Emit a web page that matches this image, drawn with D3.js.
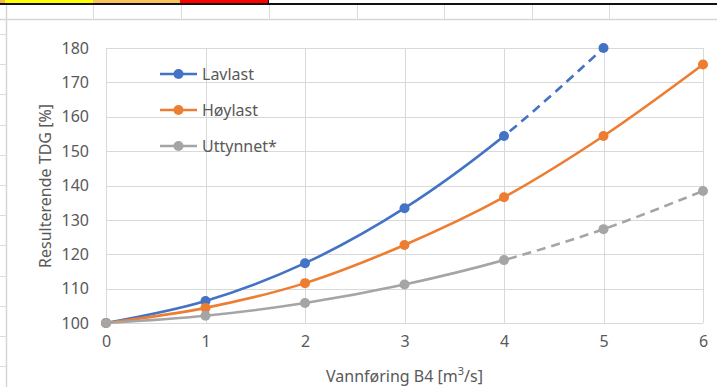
<!DOCTYPE html>
<html lang="no">
<head>
    <meta charset="UTF-8">
    <title>Resulterende TDG</title>
    <script src="https://d3js.org/d3.v7.min.js"></script>
    <style>
        body { margin: 0; background: #fff; }
        text { font-family: "Noto Sans", "Open Sans", sans-serif; fill: #595959; }
    </style>
</head>
<body>
    <script>
        // data
        const flows = [0, 1, 2, 3, 4, 5, 6];
        const lavlast = [100, 106.4, 117.4, 133.4, 154.4, 180];
        const hoylast = [100, 104.4, 111.6, 122.7, 136.6, 154.4, 175.2];
        const uttynnet = [100, 102.1, 105.8, 111.2, 118.3, 127.3, 138.4];
        const yTicks = [100, 110, 120, 130, 140, 150, 160, 170, 180];

        const series = [
            { name: "Lavlast", values: lavlast, color: "#4472C4", dashFrom: 4 },
            { name: "Høylast", values: hoylast, color: "#ED7D31", dashFrom: null },
            { name: "Uttynnet*", values: uttynnet, color: "#A5A5A5", dashFrom: 4 }
        ];

        const W = 717, H = 387;
        const margin = { top: 48, right: 14, bottom: 64, left: 106 };
        const width = W - margin.left - margin.right;
        const height = H - margin.top - margin.bottom;

        const svg = d3.select("body").append("svg")
            .attr("width", W)
            .attr("height", H);

        // spreadsheet background around the chart object
        const sheet = svg.append("g");
        const topCells = [
            { x0: 0, x1: 5, c: "#F4B942" },
            { x0: 5, x1: 93, c: "#FFFF00" },
            { x0: 93, x1: 180, c: "#F8C35A" },
            { x0: 180, x1: 268, c: "#FF0000" }
        ];
        sheet.selectAll("rect.cell").data(topCells).enter().append("rect")
            .attr("x", d => d.x0).attr("y", 0)
            .attr("width", d => d.x1 - d.x0).attr("height", 3)
            .attr("fill", d => d.c);
        sheet.append("rect").attr("x", 268).attr("y", 0).attr("width", 1).attr("height", 4).attr("fill", "#000");
        sheet.append("rect").attr("x", 0).attr("y", 3).attr("width", W).attr("height", 2).attr("fill", "#111");
        [93, 181, 269, 357, 444, 532, 609].forEach(x => {
            sheet.append("line").attr("x1", x + 0.5).attr("x2", x + 0.5).attr("y1", 5).attr("y2", 20)
                .attr("stroke", "#dcdcdc");
        });
        sheet.append("line").attr("x1", 0).attr("x2", W).attr("y1", 19.5).attr("y2", 19.5)
            .attr("stroke", "#d6d6d6").attr("stroke-width", 1.5);
        d3.range(34, H, 30.2).forEach(y => {
            sheet.append("line").attr("x1", 0).attr("x2", 6).attr("y1", Math.round(y) + 0.5).attr("y2", Math.round(y) + 0.5)
                .attr("stroke", "#dcdcdc");
        });
        sheet.append("line").attr("x1", 6.5).attr("x2", 6.5).attr("y1", 5).attr("y2", H)
            .attr("stroke", "#d6d6d6").attr("stroke-width", 1.5);

        const g = svg.append("g")
            .attr("transform", `translate(${margin.left},${margin.top})`);

        const x = d3.scaleLinear().domain([0, 6]).range([0, width]);
        const y = d3.scaleLinear().domain([100, 180]).range([height, 0]);

        // gridlines
        g.append("g").selectAll("line").data(yTicks).enter().append("line")
            .attr("x1", 0).attr("x2", width)
            .attr("y1", d => Math.round(y(d)) + 0.5).attr("y2", d => Math.round(y(d)) + 0.5)
            .attr("stroke", "#d9d9d9");
        g.append("g").selectAll("line").data(flows).enter().append("line")
            .attr("x1", d => Math.round(x(d)) + 0.5).attr("x2", d => Math.round(x(d)) + 0.5)
            .attr("y1", 0).attr("y2", height)
            .attr("stroke", "#d9d9d9");

        // axes
        const yAxis = g.append("g")
            .call(d3.axisLeft(y).tickValues(yTicks).tickSize(0).tickPadding(17));
        const xAxis = g.append("g")
            .attr("transform", `translate(0,${height})`)
            .call(d3.axisBottom(x).tickValues(flows).tickSize(0).tickPadding(13).tickFormat(d3.format("d")));
        [yAxis, xAxis].forEach(a => {
            a.select(".domain").remove();
            a.selectAll("text").style("font-size", "16px").attr("fill", "#595959");
        });

        svg.append("text")
            .attr("x", margin.left + x(3))
            .attr("y", 382)
            .attr("text-anchor", "middle")
            .style("font-size", "16px")
            .html("Vannføring B4 [m<tspan baseline-shift='super' font-size='11px'>3</tspan>/s]");

        svg.append("text")
            .attr("transform", "translate(51,186) rotate(-90)")
            .attr("text-anchor", "middle")
            .style("font-size", "16px")
            .text("Resulterende TDG [%]");

        // clip regions for solid / dashed parts
        const defs = svg.append("defs");
        defs.append("clipPath").attr("id", "solidClip").append("rect")
            .attr("x", -10).attr("y", -20).attr("width", x(4) + 10).attr("height", height + 40);
        defs.append("clipPath").attr("id", "dashClip").append("rect")
            .attr("x", x(4)).attr("y", -20).attr("width", width - x(4) + 20).attr("height", height + 40);

        const line = d3.line()
            .x((d, i) => x(flows[i]))
            .y(d => y(d))
            .curve(d3.curveCatmullRom.alpha(0.5));

        series.forEach(s => {
            const sg = g.append("g");
            if (s.dashFrom === null) {
                sg.append("path").attr("d", line(s.values))
                    .attr("fill", "none").attr("stroke", s.color).attr("stroke-width", 2.6);
            } else {
                sg.append("path").attr("d", line(s.values))
                    .attr("clip-path", "url(#solidClip)")
                    .attr("fill", "none").attr("stroke", s.color).attr("stroke-width", 2.6);
                sg.append("path").attr("d", line(s.values))
                    .attr("clip-path", "url(#dashClip)")
                    .attr("fill", "none").attr("stroke", s.color).attr("stroke-width", 2.6)
                    .attr("stroke-dasharray", "9,6").attr("stroke-dashoffset", -3);
            }
            sg.selectAll("circle").data(s.values).enter().append("circle")
                .attr("cx", (d, i) => x(flows[i]))
                .attr("cy", d => y(d))
                .attr("r", 5)
                .attr("fill", s.color);
        });

        // legend
        const legend = g.append("g").attr("transform", "translate(54,26)");
        series.forEach((s, i) => {
            const row = legend.append("g").attr("transform", `translate(0,${i * 36})`);
            row.append("line").attr("x1", 0).attr("x2", 37).attr("y1", 0).attr("y2", 0)
                .attr("stroke", s.color).attr("stroke-width", 2.6);
            row.append("circle").attr("cx", 18.5).attr("cy", 0).attr("r", 5).attr("fill", s.color);
            row.append("text").attr("x", 42).attr("y", 0).attr("dy", "0.35em")
                .style("font-size", "16px").text(s.name);
        });
    </script>
</body>
</html>
